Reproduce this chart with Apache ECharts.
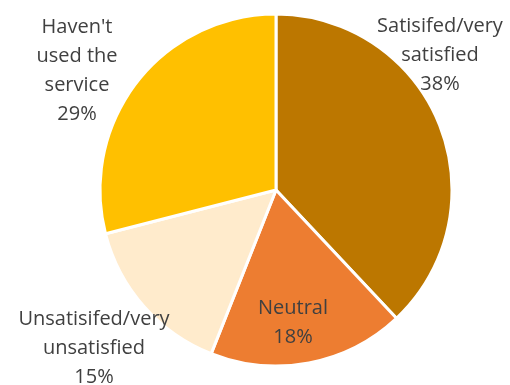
<!DOCTYPE html>
<html>
<head>
<meta charset="utf-8">
<script src="https://cdn.jsdelivr.net/npm/echarts@6/dist/echarts.min.js"></script>
<style>
  html, body { margin: 0; padding: 0; background: #fff; }
  #chart { width: 510px; height: 385px; }
</style>
</head>
<body>
<div id="chart"></div>
<script>
// Survey responses, clockwise from the top
const categories = [
  'Satisifed/very\nsatisfied',
  'Neutral',
  'Unsatisifed/very\nunsatisfied',
  "Haven't\nused the\nservice"
];
const shares = [38, 18, 15, 29];
const sliceColors = ['#BC7700', '#ED7D31', '#FFEBCC', '#FFC000'];

// Where each label block is centred
const labelSpots = [
  [440, 55],
  [293, 323],
  [94, 348],
  [77, 71]
];

const chart = echarts.init(document.getElementById('chart'));
chart.setOption({
  animation: false,
  series: [{
    type: 'pie',
    center: [276, 190],
    radius: 176,
    startAngle: 90,
    clockwise: true,
    itemStyle: { borderColor: '#ffffff', borderWidth: 3 },
    label: {
      show: true,
      position: 'inside',
      align: 'center',
      verticalAlign: 'middle',
      fontFamily: 'Open Sans',
      fontSize: 20,
      lineHeight: 29,
      color: '#404040',
      formatter: p => p.name + '\n' + p.value + '%'
    },
    labelLine: { show: false },
    labelLayout: p => ({
      x: labelSpots[p.dataIndex][0],
      y: labelSpots[p.dataIndex][1],
      align: 'center',
      verticalAlign: 'middle'
    }),
    emphasis: { disabled: true },
    data: categories.map((name, i) => ({
      name: name,
      value: shares[i],
      itemStyle: { color: sliceColors[i] }
    }))
  }]
});
</script>
</body>
</html>
